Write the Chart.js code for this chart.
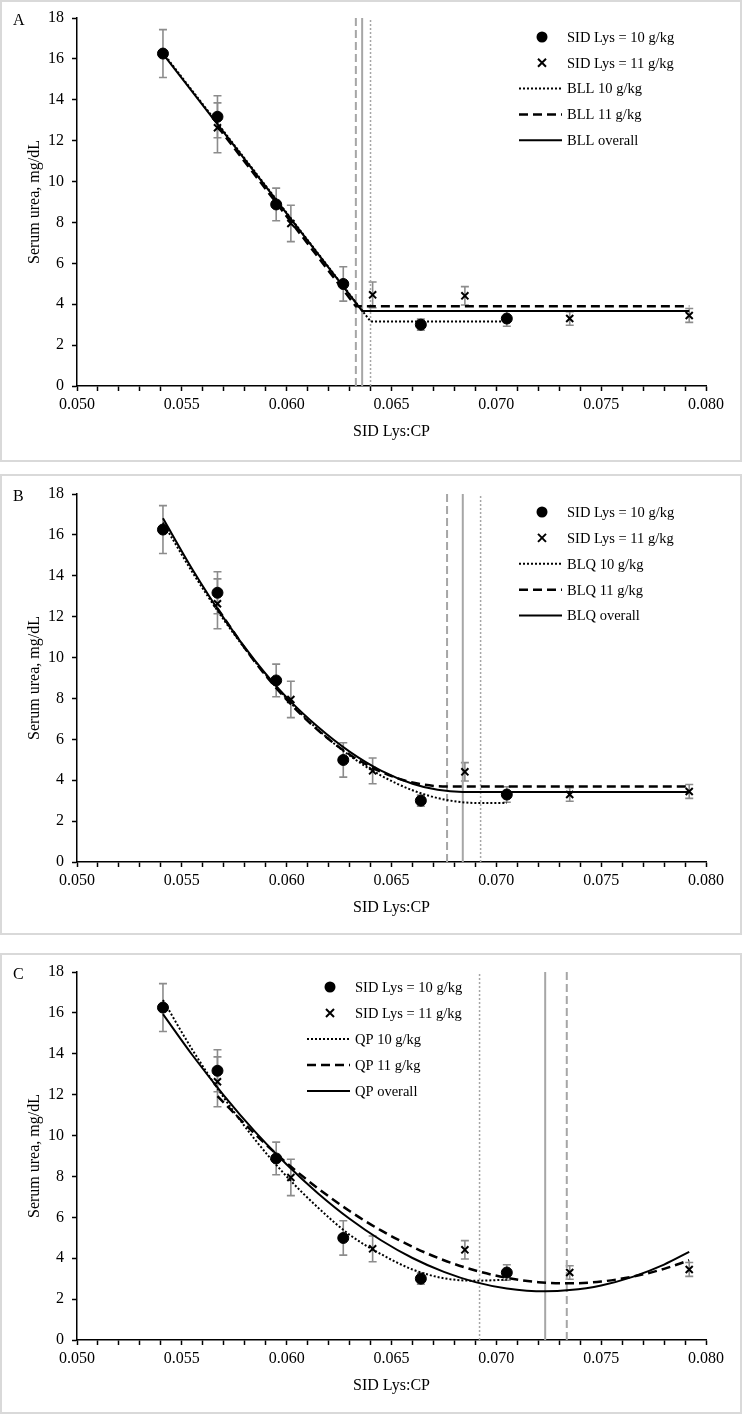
<!DOCTYPE html>
<html>
<head>
<meta charset="utf-8">
<script src="https://cdn.jsdelivr.net/npm/chart.js@4.4.1/dist/chart.umd.min.js"></script>
<style>
  body { margin: 0; background: #fff; width: 744px; height: 1415px; position: relative; overflow: hidden; }
  .panel { position: absolute; left: 0; width: 742px; border: 2px solid #d9d9d9; box-sizing: border-box; }
  canvas { position: absolute; left: 0; }
</style>
</head>
<body>
<div class="panel" style="top:0;height:462px"></div>
<div class="panel" style="top:474px;height:461px"></div>
<div class="panel" style="top:953px;height:461px"></div>
<canvas id="chartA" width="744" height="462" style="top:0"></canvas>
<canvas id="chartB" width="744" height="462" style="top:476px"></canvas>
<canvas id="chartC" width="744" height="462" style="top:954px"></canvas>
<script>
const serif = "'Liberation Serif', 'Times New Roman', serif";

// observed means and SE (same in all three panels)
const lys10X = [0.0541, 0.0567, 0.0595, 0.0627, 0.0664, 0.0705];
const lys10Y = [16.26, 13.17, 8.88, 4.99, 3.0, 3.3];
const lys10Err = [1.17, 1.03, 0.8, 0.84, 0.27, 0.38];
const lys11X = [0.0567, 0.0602, 0.0641, 0.0685, 0.0735, 0.0792];
const lys11Y = [12.63, 7.95, 4.46, 4.41, 3.3, 3.45];
const lys11Err = [1.22, 0.89, 0.63, 0.45, 0.33, 0.34];

// A: broken-line linear
const bll10X = [0.0541, 0.0640, 0.0705];
const bll10Y = [16.3, 3.16, 3.16];
const bll11X = [0.0567, 0.0633, 0.0792];
const bll11Y = [12.7, 3.9, 3.9];
const bllAllX = [0.0541, 0.0636, 0.0792];
const bllAllY = [16.25, 3.67, 3.67];
const bllBreaks = [0.0640, 0.0633, 0.0636]; // 10, 11, overall

// B: broken-line quadratic
const blq10X = [0.0541, 0.0555, 0.0570, 0.0585, 0.0600, 0.0615, 0.0630, 0.0645, 0.0660, 0.0675, 0.06925, 0.0705];
const blq10Y = [16.6, 14.18, 11.85, 9.79, 7.99, 6.47, 5.21, 4.23, 3.51, 3.06, 2.88, 2.88];
const blq11X = [0.0567, 0.0585, 0.0600, 0.0615, 0.0630, 0.0645, 0.0660, 0.06765, 0.0792];
const blq11Y = [12.4, 9.77, 7.94, 6.44, 5.26, 4.41, 3.89, 3.69, 3.69];
const blqAllX = [0.0541, 0.0555, 0.0570, 0.0585, 0.0600, 0.0615, 0.0630, 0.0645, 0.0660, 0.0672, 0.0684, 0.0792];
const blqAllY = [16.81, 14.32, 11.93, 9.84, 8.05, 6.6, 5.4, 4.47, 3.83, 3.53, 3.43, 3.43];
const blqBreaks = [0.06925, 0.06765, 0.0684];

// C: quadratic polynomial
const qp10X = [0.0541, 0.0555, 0.0570, 0.0585, 0.0600, 0.0615, 0.0630, 0.0645, 0.0660, 0.0675, 0.0690, 0.0705];
const qp10Y = [16.63, 14.2, 11.86, 9.79, 8.0, 6.47, 5.15, 4.2, 3.45, 3.02, 2.9, 2.95];
const qp11X = [0.0567, 0.0585, 0.0600, 0.0615, 0.0630, 0.0645, 0.0660, 0.0675, 0.0690, 0.0705, 0.0720, 0.07336, 0.0750, 0.0765, 0.0780, 0.0792];
const qp11Y = [11.93, 10.06, 8.66, 7.41, 6.31, 5.36, 4.56, 3.90, 3.40, 3.04, 2.83, 2.77, 2.86, 3.10, 3.48, 3.90];
const qpAllX = [0.0541, 0.0555, 0.0570, 0.0585, 0.0600, 0.0615, 0.0630, 0.0645, 0.0660, 0.0675, 0.0690, 0.0705, 0.07233, 0.0735, 0.0750, 0.0765, 0.0780, 0.0792];
const qpAllY = [15.94, 13.94, 11.97, 10.18, 8.58, 7.17, 5.93, 4.88, 4.01, 3.33, 2.83, 2.52, 2.38, 2.44, 2.67, 3.09, 3.69, 4.31];
const qpBreaks = [0.0692, 0.07336, 0.07233];

const xTickLabels = ['0.050', '0.055', '0.060', '0.065', '0.070', '0.075', '0.080'];
const xTickValues = [];
for (let i = 50; i <= 80; i++) xTickValues.push(i / 1000);

const pts = (xs, ys) => xs.map((x, i) => ({ x: x, y: ys[i] }));
const vline = x => [{ x: x, y: 0 }, { x: x, y: 18 }];

// grey error bars under the markers
const errorBars = {
  id: 'errorBars',
  beforeDatasetsDraw(chart) {
    const ctx = chart.ctx, xs = chart.scales.x, ys = chart.scales.y;
    ctx.save();
    ctx.strokeStyle = '#8c8c8c';
    ctx.lineWidth = 1.6;
    chart.data.datasets.forEach(ds => {
      if (!ds.errors) return;
      ds.data.forEach((p, i) => {
        const px = xs.getPixelForValue(p.x);
        const top = ys.getPixelForValue(p.y + ds.errors[i]);
        const bot = ys.getPixelForValue(p.y - ds.errors[i]);
        ctx.beginPath();
        ctx.moveTo(px, top); ctx.lineTo(px, bot);
        ctx.moveTo(px - 4, top); ctx.lineTo(px + 4, top);
        ctx.moveTo(px - 4, bot); ctx.lineTo(px + 4, bot);
        ctx.stroke();
      });
    });
    ctx.restore();
  }
};

// panel letter and the legend inside the plot
const panelDecor = {
  id: 'panelDecor',
  afterDraw(chart, args, o) {
    const ctx = chart.ctx;
    ctx.save();
    ctx.fillStyle = '#000';
    ctx.font = '16px ' + serif;
    ctx.textBaseline = 'alphabetic';
    ctx.fillText(o.letter, 13, 25);
    ctx.font = '14.5px ' + serif;
    ctx.textBaseline = 'middle';
    o.items.forEach((it, i) => {
      const y = o.top + i * o.gap;
      const mx = o.left + 23;
      ctx.strokeStyle = '#000';
      if (it.kind === 'circle') {
        ctx.beginPath(); ctx.arc(mx, y, 5.5, 0, Math.PI * 2); ctx.fill();
      } else if (it.kind === 'cross') {
        ctx.lineWidth = 2;
        ctx.beginPath();
        ctx.moveTo(mx - 4, y - 4); ctx.lineTo(mx + 4, y + 4);
        ctx.moveTo(mx - 4, y + 4); ctx.lineTo(mx + 4, y - 4);
        ctx.stroke();
      } else {
        ctx.lineWidth = it.kind === 'dashed' ? 2.5 : 2;
        ctx.setLineDash(it.kind === 'dotted' ? [2, 2] : it.kind === 'dashed' ? [9, 5] : []);
        ctx.beginPath(); ctx.moveTo(o.left, y); ctx.lineTo(o.left + 43, y); ctx.stroke();
        ctx.setLineDash([]);
      }
      ctx.fillText(it.label, o.left + 48, y + 1);
    });
    ctx.restore();
  }
};

function makeChart(id, letter, prefix, fits, breaks, legendPos) {
  const lineStyles = [
    { borderDash: [2, 2], borderWidth: 2 },
    { borderDash: [9, 5], borderWidth: 2.5 },
    { borderDash: [], borderWidth: 2 }
  ];
  const vStyles = [
    { borderDash: [2, 2], borderWidth: 1.5 },
    { borderDash: [8, 4], borderWidth: 2 },
    { borderDash: [], borderWidth: 2 }
  ];
  const datasets = [
    { label: 'SID Lys = 10 g/kg', data: pts(lys10X, lys10Y), errors: lys10Err, pointStyle: 'circle',
      pointRadius: 5.5, backgroundColor: '#000', borderColor: '#000', order: 1 },
    { label: 'SID Lys = 11 g/kg', data: pts(lys11X, lys11Y), errors: lys11Err, pointStyle: 'crossRot',
      pointRadius: 5, borderWidth: 2, borderColor: '#000', order: 1 }
  ];
  fits.forEach((f, i) => {
    datasets.push({
      label: f.label, data: pts(f.x, f.y), showLine: true, pointRadius: 0, borderColor: '#000',
      borderDash: lineStyles[i].borderDash, borderWidth: lineStyles[i].borderWidth,
      cubicInterpolationMode: f.smooth ? 'monotone' : 'default', tension: 0, order: 2
    });
  });
  breaks.forEach((b, i) => {
    datasets.push({
      label: 'break ' + i, data: vline(b), showLine: true, pointRadius: 0, borderColor: '#a6a6a6',
      borderDash: vStyles[i].borderDash, borderWidth: vStyles[i].borderWidth, order: 3
    });
  });

  const tickFont = { family: serif, size: 16 };
  return new Chart(document.getElementById(id), {
    type: 'scatter',
    data: { datasets: datasets },
    options: {
      responsive: false,
      animation: false,
      devicePixelRatio: 1,
      layout: { autoPadding: false, padding: { top: 18, right: 38, bottom: 21, left: 0 } },
      plugins: {
        legend: { display: false },
        tooltip: { enabled: false },
        panelDecor: {
          letter: letter, left: legendPos.left, top: legendPos.top, gap: legendPos.gap,
          items: [
            { kind: 'circle', label: 'SID Lys = 10 g/kg' },
            { kind: 'cross', label: 'SID Lys = 11 g/kg' },
            { kind: 'dotted', label: prefix + ' 10 g/kg' },
            { kind: 'dashed', label: prefix + ' 11 g/kg' },
            { kind: 'solid', label: prefix + ' overall' }
          ]
        }
      },
      scales: {
        x: {
          type: 'linear', min: 0.05, max: 0.08,
          afterFit: s => { s.height = 55; },
          afterBuildTicks: s => { s.ticks = xTickValues.map(v => ({ value: v })); },
          border: { color: '#000', width: 1.5 },
          grid: { drawOnChartArea: false, tickLength: 5, tickColor: '#000', tickWidth: 1.5 },
          ticks: {
            autoSkip: false, maxRotation: 0, padding: 4, color: '#000', font: tickFont,
            callback: v => {
              const k = Math.round(v * 1000);
              return k % 5 === 0 ? xTickLabels[(k - 50) / 5] : '';
            }
          },
          title: { display: true, text: 'SID Lys:CP', color: '#000', font: tickFont, padding: { top: 0, bottom: 0 } }
        },
        y: {
          min: 0, max: 18,
          afterFit: s => { s.width = 77; },
          border: { color: '#000', width: 1.5 },
          grid: { drawOnChartArea: false, tickLength: 5, tickColor: '#000', tickWidth: 1.5 },
          ticks: { stepSize: 2, padding: 8, color: '#000', font: tickFont },
          title: { display: true, text: 'Serum urea, mg/dL', color: '#000', font: tickFont, padding: { top: 25, bottom: 0 } }
        }
      }
    },
    plugins: [errorBars, panelDecor]
  });
}

makeChart('chartA', 'A', 'BLL', [
  { label: 'BLL 10 g/kg', x: bll10X, y: bll10Y },
  { label: 'BLL 11 g/kg', x: bll11X, y: bll11Y },
  { label: 'BLL overall', x: bllAllX, y: bllAllY }
], bllBreaks, { left: 519, top: 37, gap: 25.8 });

makeChart('chartB', 'B', 'BLQ', [
  { label: 'BLQ 10 g/kg', x: blq10X, y: blq10Y, smooth: true },
  { label: 'BLQ 11 g/kg', x: blq11X, y: blq11Y, smooth: true },
  { label: 'BLQ overall', x: blqAllX, y: blqAllY, smooth: true }
], blqBreaks, { left: 519, top: 36, gap: 25.9 });

makeChart('chartC', 'C', 'QP', [
  { label: 'QP 10 g/kg', x: qp10X, y: qp10Y, smooth: true },
  { label: 'QP 11 g/kg', x: qp11X, y: qp11Y, smooth: true },
  { label: 'QP overall', x: qpAllX, y: qpAllY, smooth: true }
], qpBreaks, { left: 307, top: 33, gap: 26 });
</script>
</body>
</html>
